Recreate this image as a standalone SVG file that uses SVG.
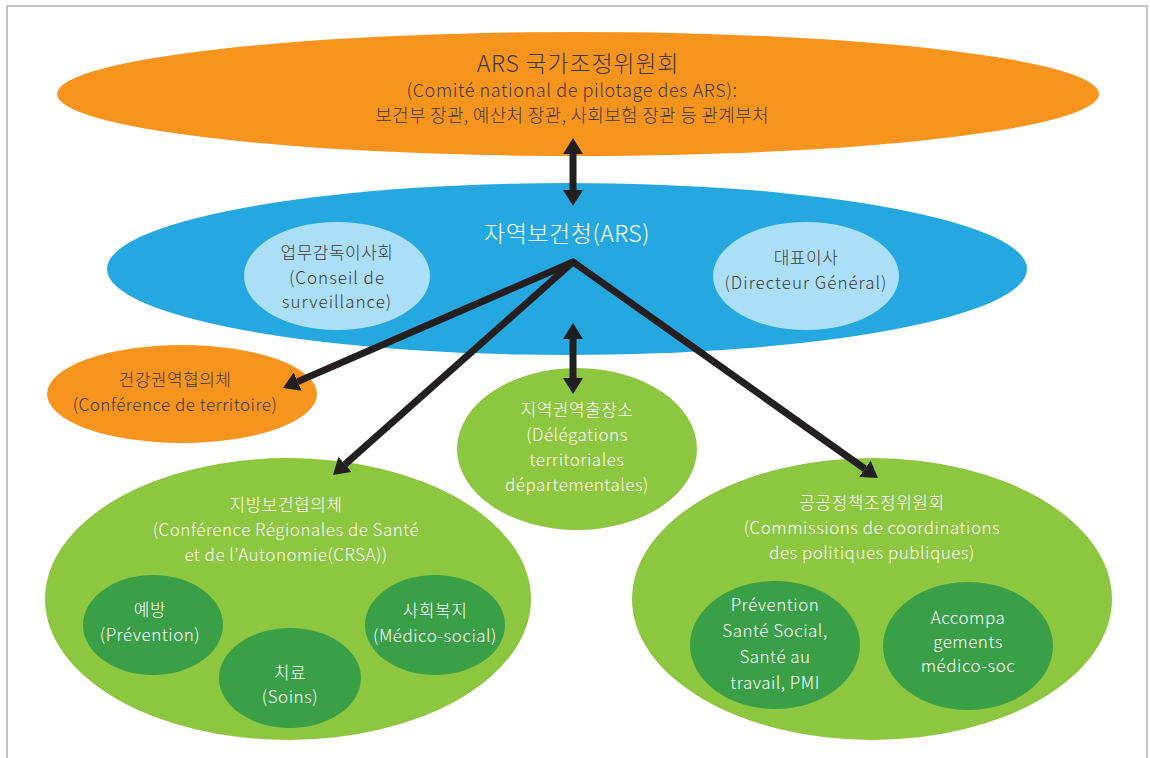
<svg xmlns="http://www.w3.org/2000/svg" width="1150" height="758" viewBox="0 0 1150 758">
<defs>
<style>
text{font-family:"Noto Sans CJK KR","Noto Sans",sans-serif;text-anchor:middle;font-weight:300;font-size:17px;letter-spacing:0.5px}
.dk{fill:#3b3b3b}
.wt{fill:#ffffff}
.orange{fill:#f7941d}
.blue{fill:#25a8e0}
.lblue{fill:#abdff8}
.lgreen{fill:#8dc63f}
.dgreen{fill:#3aa048}
.conn{stroke:#231f20;stroke-width:7;fill:none;stroke-linejoin:miter;stroke-miterlimit:10}
</style>
<marker id="ah" viewBox="0 0 16 20" markerUnits="userSpaceOnUse" markerWidth="16" markerHeight="20" refX="0" refY="10" orient="auto-start-reverse">
<path d="M0,0 L16,10 L0,20 z" fill="#231f20"/>
</marker>
</defs>
<rect x="0" y="0" width="1150" height="758" fill="#ffffff"/>
<path d="M7,758 L7,6 L1147,6 L1147,758" fill="none" stroke="#b3b3b3" stroke-width="1.5"/>

<g id="node-national">
<ellipse class="orange" cx="578" cy="94" rx="521" ry="62"/>
<text class="dk" x="578" y="72" style="font-size:23px;letter-spacing:0.8px">ARS 국가조정위원회</text>
<text class="dk" x="572" y="97" style="font-size:18px;letter-spacing:0.6px">(Comité national de pilotage des ARS):</text>
<text class="dk" x="572" y="122" style="font-size:18px;letter-spacing:0.3px">보건부 장관, 예산처 장관, 사회보험 장관 등 관계부처</text>
</g>

<g id="node-ars">
<ellipse class="blue" cx="567" cy="269" rx="460" ry="86"/>
<text class="wt" x="567" y="242" style="font-size:23px;letter-spacing:0.5px">자역보건청(ARS)</text>
</g>

<g id="node-conseil">
<ellipse class="lblue" cx="337" cy="276" rx="93" ry="54"/>
<text class="dk" x="337" y="259">업무감독이사회</text>
<text class="dk" x="337" y="284" style="letter-spacing:1px">(Conseil de</text>
<text class="dk" x="337" y="308" style="letter-spacing:1px">surveillance)</text>
</g>

<g id="node-directeur">
<ellipse class="lblue" cx="806" cy="276" rx="93" ry="54"/>
<text class="dk" x="806" y="264">대표이사</text>
<text class="dk" x="806" y="289" style="letter-spacing:1px">(Directeur Général)</text>
</g>

<g id="node-territoire">
<ellipse class="orange" cx="182" cy="394" rx="135" ry="49"/>
<text class="dk" x="175" y="386">건강권역협의체</text>
<text class="dk" x="175" y="411">(Conférence de territoire)</text>
</g>

<g id="node-delegations">
<ellipse class="lgreen" cx="577" cy="449" rx="120" ry="81"/>
<text class="wt" x="577" y="416">지역권역출장소</text>
<text class="wt" x="577" y="441">(Délégations</text>
<text class="wt" x="577" y="466">territoriales</text>
<text class="wt" x="577" y="491">départementales)</text>
</g>

<g id="node-crsa">
<ellipse class="lgreen" cx="288" cy="599" rx="243" ry="141"/>
<text class="wt" x="286" y="511">지방보건협의체</text>
<text class="wt" x="286" y="536">(Conférence  Régionales de Santé</text>
<text class="wt" x="286" y="561">et de l’Autonomie(CRSA))</text>
</g>

<g id="node-prevention">
<ellipse class="dgreen" cx="153" cy="625" rx="70" ry="50"/>
<text class="wt" x="150" y="616">예방</text>
<text class="wt" x="150" y="641">(Prévention)</text>
</g>

<g id="node-soins">
<ellipse class="dgreen" cx="290" cy="678" rx="71" ry="50"/>
<text class="wt" x="290" y="679">치료</text>
<text class="wt" x="290" y="703">(Soins)</text>
</g>

<g id="node-medico">
<ellipse class="dgreen" cx="435" cy="625" rx="70" ry="50"/>
<text class="wt" x="435" y="617">사회복지</text>
<text class="wt" x="435" y="642">(Médico-social)</text>
</g>

<g id="node-commissions">
<ellipse class="lgreen" cx="872" cy="599" rx="240" ry="141"/>
<text class="wt" x="872" y="509">공공정책조정위원회</text>
<text class="wt" x="872" y="534">(Commissions de coordinations</text>
<text class="wt" x="872" y="559">des politiques publiques)</text>
</g>

<g id="node-sante">
<ellipse class="dgreen" cx="775" cy="645" rx="85" ry="64"/>
<text class="wt" x="775" y="611">Prévention</text>
<text class="wt" x="775" y="637">Santé Social,</text>
<text class="wt" x="775" y="663">Santé au</text>
<text class="wt" x="775" y="689">travail, PMI</text>
</g>

<g id="node-accompagnements">
<ellipse class="dgreen" cx="968" cy="646" rx="85" ry="64"/>
<text class="wt" x="968" y="624">Accompa</text>
<text class="wt" x="968" y="648">gements</text>
<text class="wt" x="968" y="672">médico-soc</text>
</g>

<g id="connectors">
<line class="conn" x1="573" y1="154" x2="573" y2="190" marker-start="url(#ah)" marker-end="url(#ah)"/>
<line class="conn" x1="573" y1="339" x2="573" y2="378" marker-start="url(#ah)" marker-end="url(#ah)"/>
<path class="conn" d="M297.7,381.6 L573,262 L864.9,468.8" marker-start="url(#ah)" marker-end="url(#ah)"/>
<line class="conn" x1="573" y1="262" x2="345" y2="464.4" marker-end="url(#ah)"/>
</g>
</svg>
